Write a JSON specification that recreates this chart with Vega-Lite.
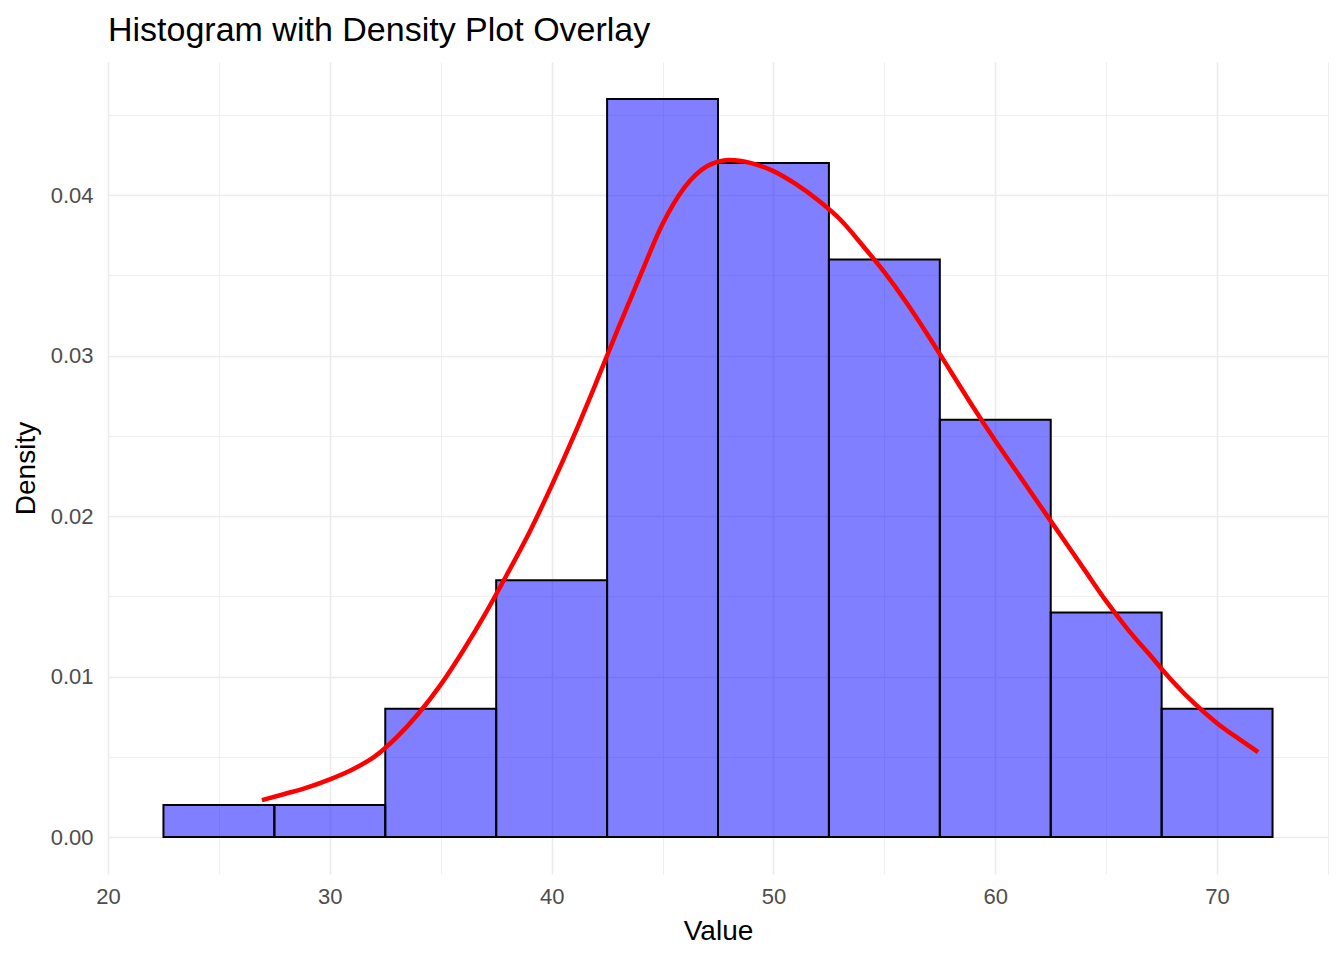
{
  "$schema": "https://vega.github.io/schema/vega-lite/v6.json",
  "width": 1220,
  "height": 812,
  "autosize": {"type": "none"},
  "padding": {"left": 108, "top": 62, "right": 16, "bottom": 86},
  "background": "white",
  "title": {
    "text": "Histogram with Density Plot Overlay",
    "anchor": "start",
    "frame": "group",
    "font": "Liberation Sans",
    "fontSize": 34,
    "fontWeight": "normal",
    "color": "black",
    "offset": 14
  },
  "config": {
    "view": {"stroke": null},
    "axis": {
      "labelFont": "Liberation Sans",
      "titleFont": "Liberation Sans",
      "labelFontSize": 22,
      "titleFontSize": 28,
      "titleFontWeight": "normal",
      "labelColor": "#4D4D4D",
      "titleColor": "black",
      "domain": false,
      "ticks": false,
      "labelFlush": false,
      "gridColor": "#EBEBEB"
    }
  },
  "datasets": {
    "bins": [
      {"start": 22.5, "end": 27.5, "density": 0.002},
      {"start": 27.5, "end": 32.5, "density": 0.002},
      {"start": 32.5, "end": 37.5, "density": 0.008},
      {"start": 37.5, "end": 42.5, "density": 0.016},
      {"start": 42.5, "end": 47.5, "density": 0.046},
      {"start": 47.5, "end": 52.5, "density": 0.042},
      {"start": 52.5, "end": 57.5, "density": 0.036},
      {"start": 57.5, "end": 62.5, "density": 0.026},
      {"start": 62.5, "end": 67.5, "density": 0.014},
      {"start": 67.5, "end": 72.5, "density": 0.008}
    ],
    "curve": [
      {"x": 26.94, "y": 0.0023},
      {"x": 28, "y": 0.0027},
      {"x": 29, "y": 0.0031},
      {"x": 30, "y": 0.0036},
      {"x": 31, "y": 0.0042},
      {"x": 32, "y": 0.005},
      {"x": 33, "y": 0.0062},
      {"x": 34, "y": 0.0077},
      {"x": 35, "y": 0.0095},
      {"x": 36, "y": 0.0116},
      {"x": 37, "y": 0.0139},
      {"x": 38, "y": 0.0164},
      {"x": 39, "y": 0.019},
      {"x": 40, "y": 0.0219},
      {"x": 41, "y": 0.025},
      {"x": 42, "y": 0.0283},
      {"x": 43, "y": 0.0317},
      {"x": 44, "y": 0.035},
      {"x": 45, "y": 0.0382},
      {"x": 46, "y": 0.0405},
      {"x": 47, "y": 0.0418},
      {"x": 48, "y": 0.0422},
      {"x": 49, "y": 0.042},
      {"x": 50, "y": 0.0415},
      {"x": 51, "y": 0.0407},
      {"x": 52, "y": 0.0397},
      {"x": 53, "y": 0.0385},
      {"x": 54, "y": 0.0369},
      {"x": 55, "y": 0.0352},
      {"x": 56, "y": 0.0333},
      {"x": 57, "y": 0.0312},
      {"x": 58, "y": 0.029},
      {"x": 59, "y": 0.0268},
      {"x": 60, "y": 0.0247},
      {"x": 61, "y": 0.0227},
      {"x": 62, "y": 0.0207},
      {"x": 63, "y": 0.0187},
      {"x": 64, "y": 0.0167},
      {"x": 65, "y": 0.0147},
      {"x": 66, "y": 0.0129},
      {"x": 67, "y": 0.0113},
      {"x": 68, "y": 0.0097},
      {"x": 69, "y": 0.0083},
      {"x": 70, "y": 0.0071},
      {"x": 71, "y": 0.0061},
      {"x": 71.85, "y": 0.0053}
    ]
  },
  "layer": [
    {
      "data": {"name": "bins"},
      "mark": {"type": "bar", "fill": "#0000FF", "fillOpacity": 0.5, "stroke": "black", "strokeWidth": 2},
      "encoding": {
        "x": {
          "field": "start",
          "type": "quantitative",
          "scale": {"domain": [20, 75], "nice": false, "zero": false},
          "axis": {
            "title": "Value",
            "values": [20, 25, 30, 35, 40, 45, 50, 55, 60, 65, 70, 75],
            "labelExpr": "datum.value % 10 === 0 ? datum.label : ''",
            "labelPadding": 12,
            "titlePadding": 10,
            "gridWidth": {"condition": {"test": "datum.value % 10 === 0", "value": 1.6}, "value": 0.8}
          }
        },
        "x2": {"field": "end"},
        "y": {
          "field": "density",
          "type": "quantitative",
          "scale": {"domain": [-0.0023, 0.0483], "nice": false, "zero": false},
          "axis": {
            "title": "Density",
            "values": [0, 0.005, 0.01, 0.015, 0.02, 0.025, 0.03, 0.035, 0.04, 0.045],
            "format": ".2f",
            "labelExpr": "round(datum.value * 1000) % 10 === 0 ? datum.label : ''",
            "labelPadding": 15,
            "titlePadding": 10,
            "gridWidth": {"condition": {"test": "round(datum.value * 1000) % 10 === 0", "value": 1.6}, "value": 0.8}
          }
        },
        "y2": {"datum": 0}
      }
    },
    {
      "data": {"name": "curve"},
      "mark": {"type": "line", "color": "red", "strokeWidth": 4.5, "interpolate": "monotone"},
      "encoding": {
        "x": {"field": "x", "type": "quantitative"},
        "y": {"field": "y", "type": "quantitative"}
      }
    }
  ]
}
